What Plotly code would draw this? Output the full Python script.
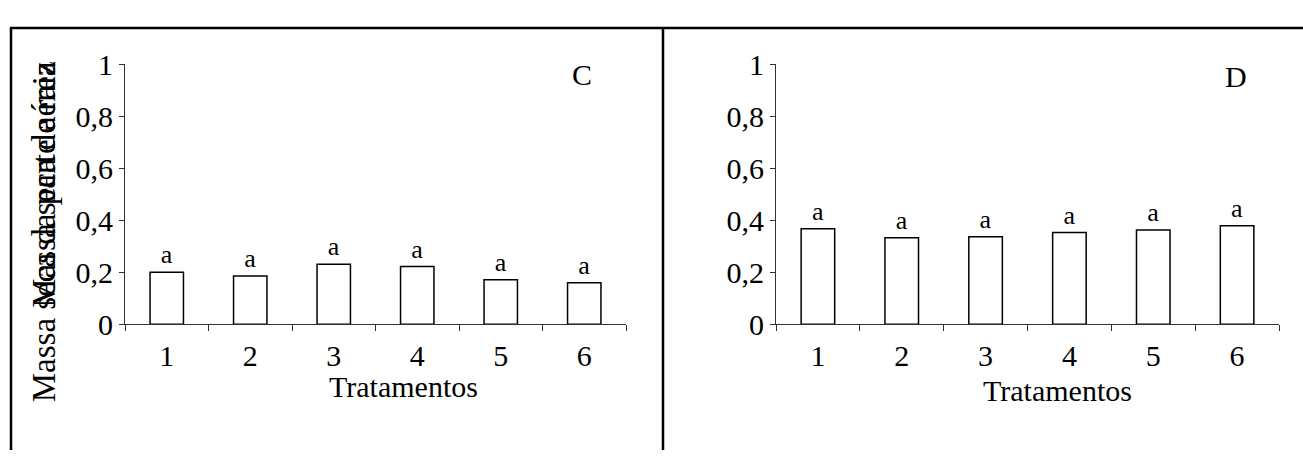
import plotly.graph_objects as go

W, H = 1303, 466

treatments = [1, 2, 3, 4, 5, 6]
values_c = [0.200, 0.186, 0.231, 0.222, 0.171, 0.160]
values_d = [0.368, 0.333, 0.337, 0.353, 0.363, 0.379]
letters_c = ["a", "a", "a", "a", "a", "a"]
letters_d = ["a", "a", "a", "a", "a", "a"]
y_ticks = [0, 0.2, 0.4, 0.6, 0.8, 1]
ytitle_long = "Massa seca da parte aérea"
ytitle_short = "Massa seca de raiz"
xtitle = "Tratamentos"

FONT = "Liberation Serif, Times New Roman, serif"
FS = 30


def px(x):
    return x / W


def py(y):
    return 1 - y / H


fig = go.Figure()

for vals, letters, xa, ya in [(values_c, letters_c, "x", "y"), (values_d, letters_d, "x2", "y2")]:
    fig.add_trace(go.Bar(
        x=treatments, y=vals, text=letters, textposition="outside",
        textfont=dict(family=FONT, size=26, color="black"),
        marker=dict(color="white", line=dict(color="black", width=1.5)),
        width=0.4, xaxis=xa, yaxis=ya, cliponaxis=False, showlegend=False,
        hoverinfo="x+y",
    ))

axis_common_x = dict(
    range=[0.5, 6.5], tickvals=treatments, ticks="", showgrid=False, zeroline=False,
    showline=True, linecolor="#333", linewidth=1,
    tickfont=dict(family=FONT, size=FS, color="black"), ticklabelstandoff=5,
    minor=dict(tickvals=[0.5, 1.5, 2.5, 3.5, 4.5, 5.5, 6.5], ticks="outside", ticklen=6, tickcolor="#333"),
)
axis_common_y = dict(
    range=[0, 1], tickvals=y_ticks, ticks="outside", ticklen=5, tickcolor="#333",
    showgrid=False, zeroline=False, showline=True, linecolor="#333", linewidth=1,
    tickfont=dict(family=FONT, size=FS, color="black"),
)

ydom = [py(331), py(52)]
fig.update_layout(
    width=W, height=H, margin=dict(l=0, r=0, t=0, b=0),
    paper_bgcolor="white", plot_bgcolor="white", separators=", ",
    font=dict(family=FONT, color="black"),
    xaxis=dict(domain=[px(125), px(626)], anchor="y", **axis_common_x),
    yaxis=dict(domain=ydom, anchor="x", **axis_common_y),
    xaxis2=dict(domain=[px(776), px(1279)], anchor="y2", **axis_common_x),
    yaxis2=dict(domain=ydom, anchor="x2", **axis_common_y),
    bargap=0.6,
)

# axis titles and panel letters
fig.add_annotation(x=px(403), y=py(398), xref="paper", yref="paper", text=xtitle, showarrow=False,
                   font=dict(family=FONT, size=FS), xanchor="center", yanchor="middle")
fig.add_annotation(x=px(1057), y=py(402), xref="paper", yref="paper", text=xtitle, showarrow=False,
                   font=dict(family=FONT, size=FS), xanchor="center", yanchor="middle")
fig.add_annotation(x=px(582), y=py(63), xref="paper", yref="paper", text="C", showarrow=False,
                   font=dict(family=FONT, size=FS), xanchor="center", yanchor="middle")
fig.add_annotation(x=px(1236), y=py(65), xref="paper", yref="paper", text="D", showarrow=False,
                   font=dict(family=FONT, size=FS), xanchor="center", yanchor="middle")
for t in [ytitle_long, ytitle_short]:
    fig.add_annotation(x=px(44), y=py(47), xref="paper", yref="paper", text=t, showarrow=False,
                       textangle=-90, font=dict(family=FONT, size=33), xanchor="center", yanchor="top")

# table borders
line = dict(color="black", width=2.5)
fig.add_shape(type="line", xref="paper", yref="paper", x0=px(10), x1=1, y0=py(13), y1=py(13), line=line)
fig.add_shape(type="line", xref="paper", yref="paper", x0=px(11), x1=px(11), y0=py(12), y1=0, line=line)
fig.add_shape(type="line", xref="paper", yref="paper", x0=px(663), x1=px(663), y0=py(12), y1=0, line=line)

fig.write_html("out.html", config={"displayModeBar": False},
               post_script="document.body.style.margin='0';document.body.style.overflow='hidden';")
